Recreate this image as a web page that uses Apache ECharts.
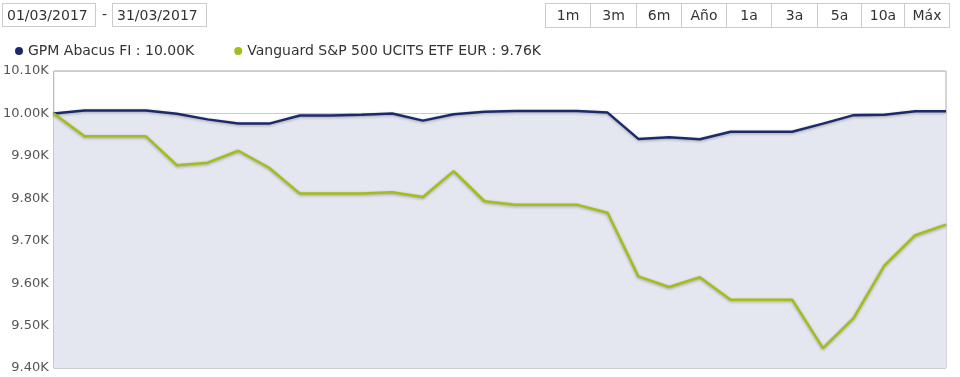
<!DOCTYPE html>
<html>
<head>
<meta charset="utf-8">
<script src="https://cdn.jsdelivr.net/npm/echarts@6/dist/echarts.min.js"></script>
<style>
  body { margin: 0; background: #fff; font-family: "DejaVu Sans", Verdana, sans-serif; }
  #wrap { position: relative; width: 960px; height: 377px; overflow: hidden; }
  #main { position: absolute; left: 0; top: 0; width: 960px; height: 377px; }
  .date { position: absolute; top: 3px; height: 22px; line-height: 22px; border: 1px solid #ccc;
          font-size: 14px; color: #333; padding-left: 4px; box-sizing: content-box; }
  .dash { position: absolute; top: 3px; left: 102px; line-height: 22px; font-size: 14px; color: #333; }
  #btns { position: absolute; top: 3px; left: 545px; height: 23px; border: 1px solid #ccc; display: flex; }
  #btns span { display: block; height: 23px; line-height: 23px; text-align: center; font-size: 14px;
               color: #333; border-left: 1px solid #ccc; }
  #btns span:first-child { border-left: none; }
</style>
</head>
<body>
<div id="wrap">
  <div id="main"></div>
  <div class="date" style="left:2px;width:88px;">01/03/2017</div>
  <div class="dash">-</div>
  <div class="date" style="left:112px;width:89px;">31/03/2017</div>
  <div id="btns"></div>
</div>
<script>
// 30 puntos diarios de marzo 2017
var days = [];
for (var d = 1; d <= 30; d++) { days.push(String(d)); }

var gpm = [10000, 10007, 10007, 10007, 9999, 9986, 9976, 9976, 9995, 9995,
           9997, 10000, 9983, 9998, 10004, 10006, 10006, 10006, 10002, 9940,
           9944, 9939, 9957, 9957, 9957, 9976, 9996, 9997, 10005, 10005];
var vanguard = [10000, 9946, 9946, 9946, 9878, 9884, 9912, 9872, 9811, 9811,
                9811, 9814, 9803, 9864, 9793, 9785, 9785, 9785, 9766, 9616,
                9591, 9614, 9561, 9561, 9561, 9447, 9518, 9642, 9713, 9738];

var legendNames = ["GPM Abacus FI : 10.00K", "Vanguard S&P 500 UCITS ETF EUR : 9.76K"];
var buttons = ["1m", "3m", "6m", "Año", "1a", "3a", "5a", "10a", "Máx"];
var btnWidths = [44, 45, 44, 44, 44, 45, 43, 42, 44];

var btnBox = document.getElementById("btns");
buttons.forEach(function (b, i) {
  var s = document.createElement("span");
  s.textContent = b;
  s.style.width = btnWidths[i] + "px";
  btnBox.appendChild(s);
});

var myChart = echarts.init(document.getElementById("main"));
myChart.setOption({
  animation: false,
  legend: {
    data: legendNames,
    left: 10,
    top: 39,
    icon: "circle",
    itemWidth: 8,
    itemHeight: 8,
    itemGap: 40,
    textStyle: { fontFamily: "DejaVu Sans", fontSize: 14, color: "#333" }
  },
  grid: {
    left: 53, right: 14, top: 71, bottom: 9,
    show: true, borderColor: "#aaa", borderWidth: 1, backgroundColor: "transparent"
  },
  xAxis: {
    type: "category",
    data: days,
    boundaryGap: false,
    axisLine: { show: false },
    axisTick: { show: false },
    axisLabel: { show: false },
    splitLine: { show: false }
  },
  yAxis: {
    type: "value",
    min: 9400,
    max: 10100,
    interval: 100,
    axisLine: { show: false },
    axisTick: { show: false },
    axisLabel: {
      margin: 5,
      fontFamily: "DejaVu Sans",
      fontSize: 13,
      color: "#555",
      formatter: function (v) { return (v / 1000).toFixed(2) + "K"; }
    },
    splitLine: { lineStyle: { color: "#ccc", width: 1 } }
  },
  series: [
    {
      name: legendNames[0],
      type: "line",
      data: gpm,
      symbol: "none",
      color: "#1b2a6b",
      lineStyle: { width: 2.5, color: "#1b2a6b", shadowColor: "rgba(0,0,0,0.3)", shadowBlur: 3, shadowOffsetY: 1 },
      areaStyle: { color: "#e4e7ef", opacity: 1, origin: "start" },
      z: 2
    },
    {
      name: legendNames[1],
      type: "line",
      data: vanguard,
      symbol: "none",
      color: "#a4bd17",
      lineStyle: { width: 2.5, color: "#a4bd17", shadowColor: "rgba(0,0,0,0.3)", shadowBlur: 3, shadowOffsetY: 1 },
      z: 3
    }
  ]
});
</script>
</body>
</html>
